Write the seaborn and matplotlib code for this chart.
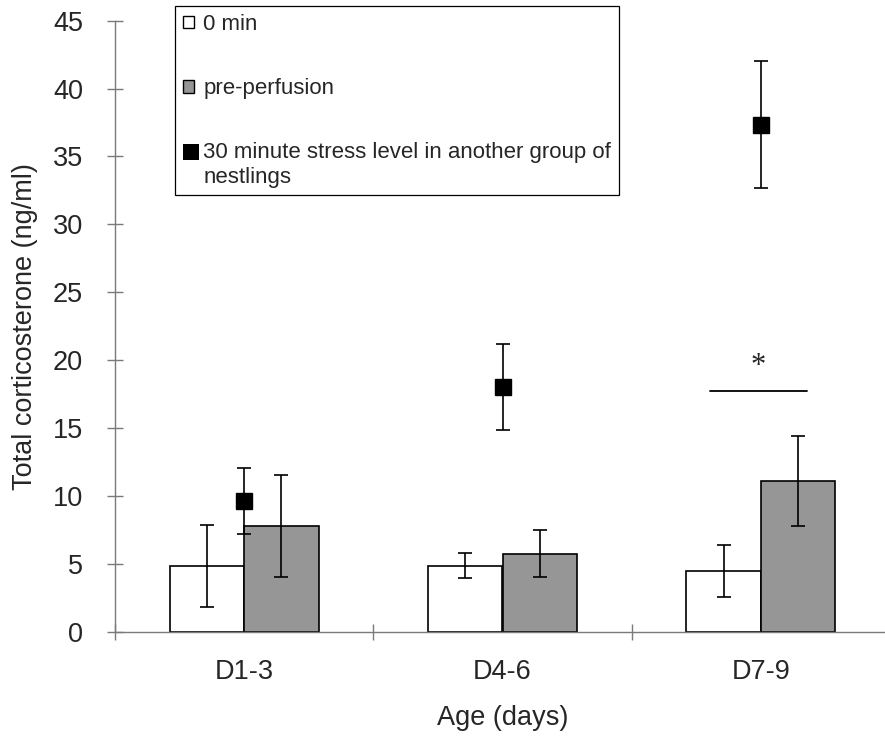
import numpy as np
import pandas as pd
import matplotlib
matplotlib.use("Agg")
import matplotlib.pyplot as plt
from matplotlib.patches import Patch, Rectangle
from matplotlib.legend_handler import HandlerPatch
import seaborn as sns

# Corticosterone by nestling age
ages = ["D1-3", "D4-6", "D7-9"]
groups = ["0 min", "pre-perfusion"]
baseline_mean = [4.85, 4.86, 4.49]
baseline_err = [3.0, 0.9, 1.93]
preperf_mean = [7.8, 5.74, 11.1]
preperf_err = [3.75, 1.72, 3.33]
stress30_mean = [9.65, 18.05, 37.33]
stress30_err = [2.43, 3.17, 4.68]
sig_y = 17.75
sig_label = "*"
stress_label = "30 minute stress level in another group of\nnestlings"

sns.set_style("white")
plt.rcParams["font.family"] = ["Liberation Sans", "DejaVu Sans"]

df = pd.DataFrame({
    "age": ages * 2,
    "group": [groups[0]] * 3 + [groups[1]] * 3,
    "value": baseline_mean + preperf_mean,
})
errs = {groups[0]: baseline_err, groups[1]: preperf_err}
palette = {groups[0]: "white", groups[1]: "#969696"}

fig = plt.figure(figsize=(8.85, 7.36), dpi=100)
ax = fig.add_axes([115 / 885, 104.3 / 736, 775 / 885, 611 / 736])

sns.barplot(data=df, x="age", y="value", hue="group", order=ages,
            hue_order=groups, palette=palette, edgecolor="black",
            linewidth=1.2, width=0.577, errorbar=None, legend=False,
            ax=ax, zorder=2)

# error bars on each bar
for cont, g in zip(ax.containers, groups):
    for bar, e in zip(cont, errs[g]):
        cx = bar.get_x() + bar.get_width() / 2
        ax.errorbar(cx, bar.get_height(), yerr=e, fmt="none", ecolor="black",
                    elinewidth=1.2, capsize=4.8, capthick=1.2, zorder=3)

# 30-minute stress levels (separate group of nestlings)
ax.errorbar(np.arange(len(ages)), stress30_mean, yerr=stress30_err, fmt="s",
            color="black", markersize=11.3, elinewidth=1.2, capsize=4.8,
            capthick=1.2, zorder=4, clip_on=False)

# significance mark for D7-9
ax.plot([1.803, 2.179], [sig_y, sig_y], color="black", lw=1.3, zorder=3)
ax.text(1.99, sig_y + 0.75, sig_label, ha="center", va="bottom",
        fontsize=22, family="Liberation Serif")

ax.set_xlim(-0.5, 2.5)
ax.set_ylim(0, 45)
ax.set_yticks(np.arange(0, 46, 5))
ax.set_xticks(range(len(ages)))
ax.set_xticklabels(ages)
ax.set_xticks(np.arange(-0.5, 3.0, 1.0), minor=True)

axis_grey = "#7a7a7a"
for side in ["top", "right"]:
    ax.spines[side].set_visible(False)
for side in ["left", "bottom"]:
    ax.spines[side].set_color(axis_grey)
    ax.spines[side].set_linewidth(1.0)

ax.tick_params(axis="y", direction="inout", length=12, width=1.0,
               color=axis_grey, labelsize=19.5, pad=17, left=True)
ax.tick_params(axis="x", which="major", length=0, labelsize=19.5, pad=20,
               bottom=True)
ax.tick_params(axis="x", which="minor", direction="inout", length=12,
               width=1.0, color=axis_grey, bottom=True)

ax.set_xlabel("Age (days)", fontsize=19.5, labelpad=14)
ax.set_ylabel("Total corticosterone (ng/ml)", fontsize=19.5, labelpad=11)


def first_line_square(legend, orig_handle, xdescent, ydescent, width,
                      height, fontsize):
    s = 11.5
    x0 = -xdescent
    cy = -ydescent + height / 2 + 0.6 * fontsize
    return Rectangle((x0, cy - s / 2), s, s)


handles = [
    Patch(facecolor="white", edgecolor="black", linewidth=1.0),
    Patch(facecolor="#969696", edgecolor="black", linewidth=1.0),
    Patch(facecolor="black", edgecolor="black", linewidth=0),
]
labels = [groups[0], groups[1], stress_label]
leg = fig.legend(handles, labels, loc="upper left",
                 bbox_to_anchor=(175 / 885, 1 - 6 / 736),
                 bbox_transform=fig.transFigure, borderaxespad=0,
                 fontsize=16.0, frameon=True, fancybox=False, framealpha=1,
                 edgecolor="black", handlelength=0.5, handleheight=0.5,
                 handletextpad=0.42, labelspacing=1.95, borderpad=0.35,
                 handler_map={handles[2]: HandlerPatch(patch_func=first_line_square)})
leg.get_frame().set_linewidth(0.9)

fig.savefig("out.png", dpi=100)
